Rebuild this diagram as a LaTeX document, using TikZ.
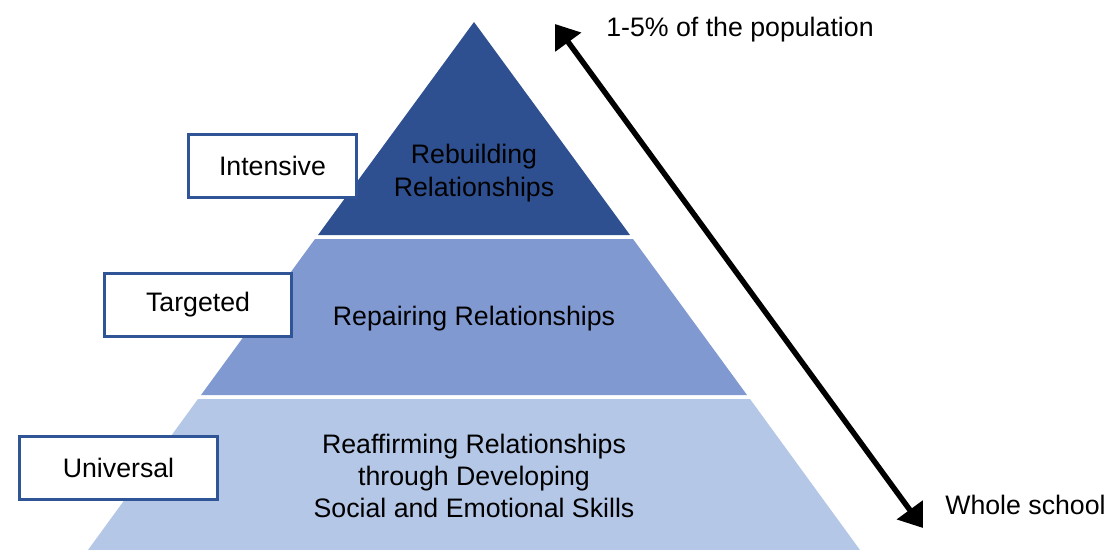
\documentclass[tikz,border=0pt]{standalone}
\usepackage{fontspec}
\setmainfont{Liberation Sans}
\usetikzlibrary{calc,arrows.meta,positioning}
\definecolor{tierdark}{HTML}{2F5090}
\definecolor{tiermid}{HTML}{8199D1}
\definecolor{tierlight}{HTML}{B4C7E7}
\definecolor{boxline}{HTML}{2F5597}
\tikzset{
  levelbox/.style={draw=boxline,line width=2.6pt,fill=white,minimum height=1.575cm,inner sep=0pt},
  tiertext/.style={align=center,inner sep=0pt},
  bigarrow/.style={line width=3.9pt,>={Triangle[length=16pt,width=22pt]},<->},
}

\begin{document}
\begin{tikzpicture}[x=0.025cm,y=-0.025cm,font=\fontsize{19}{23}\selectfont]
    \useasboundingbox (0,0) rectangle (1108,550);

    % apex and the tier edges
    \coordinate (A) at (474,22);
    \coordinate (B) at ($(A)+(-156,213)$);
    \coordinate (B2) at ($(A)+(156,213)$);
    \coordinate (C) at ($(A)+(-159,217)$);
    \coordinate (C2) at ($(A)+(159,217)$);
    \coordinate (D) at ($(A)+(-273,373)$);
    \coordinate (D2) at ($(A)+(273,373)$);
    \coordinate (E) at ($(A)+(-276,377)$);
    \coordinate (E2) at ($(A)+(276,377)$);
    \coordinate (F) at ($(A)+(-386,528)$);
    \coordinate (F2) at ($(A)+(386,528)$);

    \fill[tierdark] (A) -- (B2) -- (B) -- cycle;
    \fill[tiermid] (C) -- (C2) -- (D2) -- (D) -- cycle;
    \fill[tierlight] (E) -- (E2) -- (F2) -- (F) -- cycle;

    \node[tiertext] (rebuild) at (474,173) {Rebuilding\\Relationships};
    \node[tiertext] (repair) at (474,319) {Repairing Relationships};
    \node[tiertext] (reaffirm) at (474,476) {Reaffirming Relationships\\through Developing\\Social and Emotional Skills};

    \node[levelbox,minimum width=4.2cm] (intensive) at (272.5,166) {Intensive};
    \node[levelbox,minimum width=4.675cm] (targeted) at (198,305) {Targeted};
    \node[levelbox,minimum width=4.95cm] (universal) at (118.5,468) {Universal};

    % population arrow
    \coordinate (popTip) at (555,24);
    \coordinate (schoolTip) at (923,528);
    \draw[bigarrow] (popTip) -- (schoolTip);
    \node[anchor=base west,inner sep=0pt] (popLabel) at (606,37) {1-5\% of the population};
    \node[anchor=base west,inner sep=0pt] (schoolLabel) at (945,514) {Whole school};
\end{tikzpicture}
\end{document}
